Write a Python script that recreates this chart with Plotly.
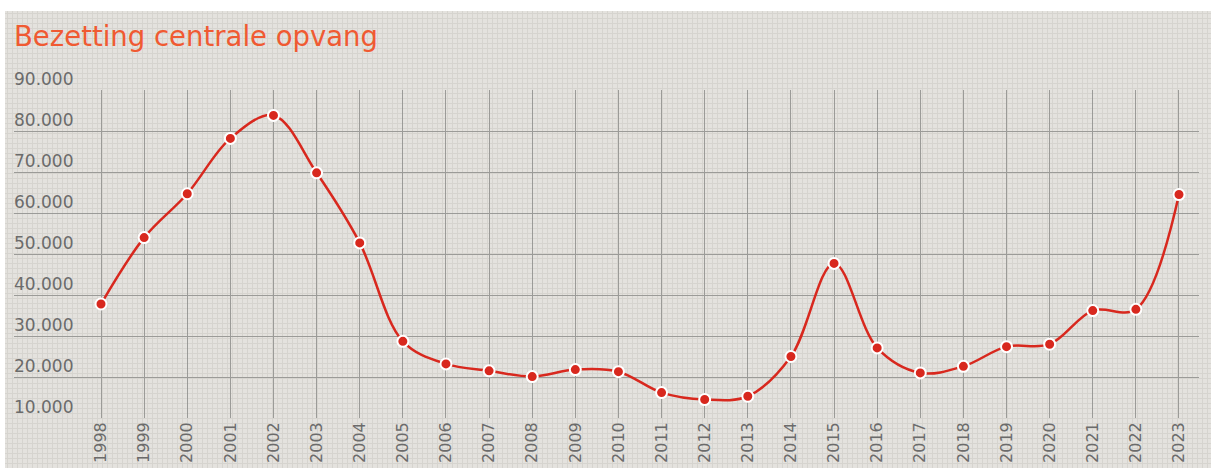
import plotly.graph_objects as go

years = list(range(1998, 2024))
occupancy = [37800, 54000, 64700, 78200, 83800, 69800, 52700, 28700, 23200, 21500,
             20100, 21800, 21300, 16200, 14500, 15300, 25000, 47700, 27100, 21000,
             22600, 27400, 28000, 36200, 36500, 64500]
y_ticks = [10000, 20000, 30000, 40000, 50000, 60000, 70000, 80000, 90000]
title_text = "Bezetting centrale opvang"

W, H = 1211, 468
ML, MR, MT, MB = 14, 12, 90, 50
PW, PH = W - ML - MR, H - MT - MB


def px_to_paper_x(px):
    return (px - ML) / PW


def px_to_paper_y(py):
    return (H - MB - py) / PH


# graph-paper background
bg_x0, bg_x1 = px_to_paper_x(5), px_to_paper_x(W + 2)
bg_y0, bg_y1 = px_to_paper_y(H + 2), px_to_paper_y(11)

step = 5
vparts = []
x = 5 + 2.5
while x < W:
    xp = px_to_paper_x(x)
    vparts.append(f"M {xp:.5f} {bg_y0:.5f} L {xp:.5f} {bg_y1:.5f}")
    x += step
hparts = []
y = 11 + 2.5
while y < H:
    yp = px_to_paper_y(y)
    hparts.append(f"M {bg_x0:.5f} {yp:.5f} L {bg_x1:.5f} {yp:.5f}")
    y += step

shapes = [
    dict(type="rect", xref="paper", yref="paper", x0=bg_x0, x1=bg_x1, y0=bg_y0, y1=bg_y1,
         fillcolor="#e4e2de", line=dict(width=0), layer="below"),
    dict(type="path", xref="paper", yref="paper", path=" ".join(vparts),
         line=dict(color="#d6d4cf", width=1), layer="below"),
    dict(type="path", xref="paper", yref="paper", path=" ".join(hparts),
         line=dict(color="#d6d4cf", width=1), layer="below"),
]


def fmt(v):
    return f"{v:,d}".replace(",", ".")


annotations = [
    dict(xref="paper", yref="y", x=0, y=v, text=fmt(v), showarrow=False,
         xanchor="left", yanchor="bottom", yshift=-1, xshift=-2,
         font=dict(size=17, color="#6b6b6b", family="DejaVu Sans, Verdana, sans-serif"))
    for v in y_ticks
]

fig = go.Figure()
fig.add_trace(go.Scatter(
    x=years, y=occupancy, mode="lines+markers",
    line=dict(color="#d8281e", width=2.5, shape="spline", smoothing=1),
    marker=dict(color="#d8281e", size=11, line=dict(color="white", width=2)),
    cliponaxis=False, hoverinfo="x+y",
))

fig.update_layout(
    width=W, height=H,
    margin=dict(l=ML, r=MR, t=MT, b=MB, autoexpand=False),
    paper_bgcolor="white",
    plot_bgcolor="rgba(0,0,0,0)",
    separators=",.",
    showlegend=False,
    shapes=shapes,
    annotations=annotations,
    font=dict(family="DejaVu Sans, Verdana, sans-serif", color="#666666"),
    title=dict(text=title_text, x=14 / W, xanchor="left", y=1 - 36 / H, yanchor="middle",
               font=dict(size=27.5, color="#f05a32", family="DejaVu Sans, Verdana, sans-serif")),
    xaxis=dict(
        range=[1995.982, 2023.464], tickmode="array", tickvals=years,
        ticktext=[str(y) for y in years], tickangle=-90, automargin=False,
        showgrid=True, gridcolor="#9b9b98", gridwidth=1, zeroline=False,
        showline=False, ticks="", tickfont=dict(size=16, color="#6b6b6b"),
    ),
    yaxis=dict(
        range=[10000, 90000], tickmode="array", tickvals=y_ticks, automargin=False,
        showgrid=True, gridcolor="#9b9b98", gridwidth=1, zeroline=False,
        showline=False, ticks="", showticklabels=False,
    ),
)

fig.write_html("out.html", config={"displayModeBar": False},
               post_script="document.body.style.margin='0';")
